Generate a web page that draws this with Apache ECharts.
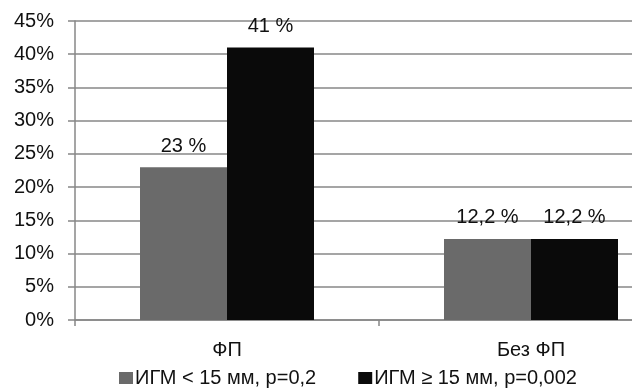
<!DOCTYPE html>
<html>
<head>
<meta charset="utf-8">
<script src="https://cdn.jsdelivr.net/npm/echarts@6/dist/echarts.min.js"></script>
<style>
  html, body { margin: 0; padding: 0; background: #fff; overflow: hidden; width: 632px; height: 389px; }
  /* the plot area continues past the visible right edge */
  #chart { width: 683px; height: 389px; }
</style>
</head>
<body>
<div id="chart"></div>
<script>
// Categories and series values (percent)
const categories = ['ФП', 'Без ФП'];
const seriesNames = ['ИГМ < 15 мм, p=0,2', 'ИГМ \u2265 15 мм, p=0,002'];
const lowIGM = [23, 12.2];
const highIGM = [41, 12.2];
const yTicks = { min: 0, max: 45, step: 5 };

const FONT = "'Liberation Sans', Arial, Helvetica, sans-serif";
const FS = 20;
const GRID_COLOR = '#878787';

const valueLabel = {
  show: true,
  position: 'top',
  distance: 11,
  color: '#111',
  fontFamily: FONT,
  fontSize: FS,
  formatter: p => String(p.value).replace('.', ',') + ' %'
};

const chart = echarts.init(document.getElementById('chart'), null, { renderer: 'canvas' });
chart.setOption({
  animation: false,
  backgroundColor: '#ffffff',
  grid: { left: 75, right: 0, top: 21, height: 299, containLabel: false },
  legend: {
    bottom: -4,
    left: 114,
    itemWidth: 14,
    itemHeight: 12,
    itemGap: 42,
    icon: 'rect',
    textStyle: { fontFamily: FONT, fontSize: FS, color: '#111', padding: [0, 0, 0, -3] },
    data: seriesNames
  },
  xAxis: {
    type: 'category',
    data: categories,
    axisLine: { lineStyle: { color: GRID_COLOR, width: 1.5 } },
    axisTick: { show: true, length: 6, lineStyle: { color: GRID_COLOR, width: 1.5 } },
    axisLabel: { fontFamily: FONT, fontSize: FS, color: '#111', margin: 20 },
    splitLine: { show: false }
  },
  yAxis: {
    type: 'value',
    min: yTicks.min,
    max: yTicks.max,
    interval: yTicks.step,
    axisLine: { show: true, lineStyle: { color: GRID_COLOR, width: 1.5 } },
    axisTick: { show: true, length: 7, lineStyle: { color: GRID_COLOR, width: 1.5 } },
    axisLabel: { fontFamily: FONT, fontSize: FS, color: '#111', margin: 21, formatter: '{value}%' },
    splitLine: { show: true, lineStyle: { color: GRID_COLOR, width: 1.5 } }
  },
  series: [
    {
      name: seriesNames[0],
      type: 'bar',
      data: lowIGM,
      barWidth: 87,
      barGap: '0%',
      itemStyle: { color: '#6a6a6a' },
      label: valueLabel
    },
    {
      name: seriesNames[1],
      type: 'bar',
      data: highIGM,
      barWidth: 87,
      barGap: '0%',
      itemStyle: { color: '#0a0a0a' },
      label: valueLabel
    }
  ]
});
</script>
</body>
</html>
